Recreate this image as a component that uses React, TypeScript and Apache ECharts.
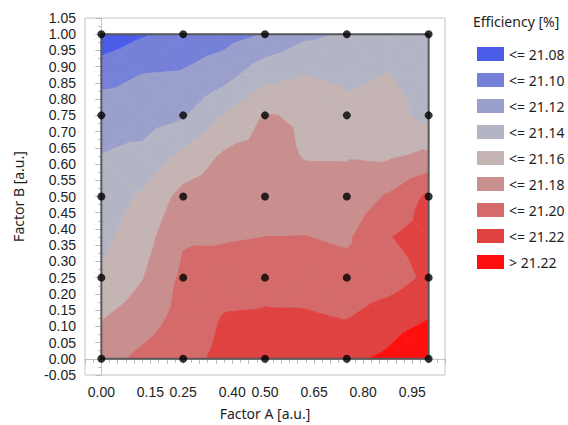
import React, { useEffect, useRef } from "react";
import * as echarts from "echarts";

// Grid of the contour (Factor A across, Factor B up)
const factorA = [0, 0.125, 0.25, 0.375, 0.5, 0.625, 0.75, 0.875, 1];
const factorB = [0, 0.125, 0.25, 0.375, 0.5, 0.625, 0.75, 0.875, 1];

// Efficiency [%] per row of Factor B (b = 0 ... 1), columns follow factorA
const effB000 = [21.172, 21.185, 21.1936, 21.205, 21.2066, 21.2117, 21.216, 21.2235, 21.24];
const effB125 = [21.159, 21.1704, 21.187, 21.2015, 21.2024, 21.2024, 21.1993, 21.2105, 21.2195];
const effB250 = [21.142, 21.159, 21.184, 21.19, 21.1939, 21.1916, 21.1876, 21.19, 21.204];
const effB375 = [21.135, 21.151, 21.178, 21.178, 21.18, 21.1803, 21.1768, 21.199, 21.207];
const effB500 = [21.128, 21.143, 21.1665, 21.1705, 21.1737, 21.169, 21.1679, 21.182, 21.204];
const effB625 = [21.1205, 21.125, 21.1445, 21.163, 21.1673, 21.1587, 21.1586, 21.157, 21.164];
const effB750 = [21.113, 21.111, 21.1177, 21.141, 21.161, 21.158, 21.1472, 21.1488, 21.133];
const effB875 = [21.092, 21.1004, 21.102, 21.112, 21.1333, 21.1398, 21.1351, 21.1405, 21.134];
const effB1000 = [21.066, 21.078, 21.088, 21.092, 21.101, 21.116, 21.122, 21.132, 21.134];
const effRows = [effB000, effB125, effB250, effB375, effB500, effB625, effB750, effB875, effB1000];

// Design points (black dots)
const designA = [0, 0.25, 0.5, 0.75, 1];
const designB = [0, 0.25, 0.5, 0.75, 1];

// Contour levels and legend
const levels = [21.08, 21.1, 21.12, 21.14, 21.16, 21.18, 21.2, 21.22];
const bandLabels = ["<= 21.08", "<= 21.10", "<= 21.12", "<= 21.14", "<= 21.16", "<= 21.18", "<= 21.20", "<= 21.22", "> 21.22"];
const bandColors = ["#4b5de8", "#7580d9", "#9a9fcc", "#b3b5c5", "#c4b4b4", "#c98e8e", "#d46a6a", "#e04242", "#ff0e0e"];

const xShownLabels = ["0.00", "0.15", "0.25", "0.40", "0.50", "0.65", "0.80", "0.95"];

const FONT = "'Noto Sans', 'Open Sans', sans-serif";
const TICK_FONT = "'Liberation Sans', Arial, sans-serif";

type P = [number, number, number];

function interp(p: P, q: P, level: number): P {
  const t = (level - p[2]) / (q[2] - p[2]);
  return [p[0] + t * (q[0] - p[0]), p[1] + t * (q[1] - p[1]), level];
}

function clip(poly: P[], level: number, keepAbove: boolean): P[] {
  const out: P[] = [];
  const inside = (p: P) => (keepAbove ? p[2] >= level : p[2] <= level);
  for (let k = 0; k < poly.length; k++) {
    const cur = poly[k];
    const prev = poly[(k + poly.length - 1) % poly.length];
    const ci = inside(cur);
    const pi = inside(prev);
    if (ci) {
      if (!pi) out.push(interp(prev, cur, level));
      out.push(cur);
    } else if (pi) {
      out.push(interp(prev, cur, level));
    }
  }
  return out;
}

function buildBands(): number[][][][] {
  const bands: number[][][][] = bandLabels.map(() => []);
  for (let j = 0; j < factorB.length - 1; j++) {
    for (let i = 0; i < factorA.length - 1; i++) {
      const p00: P = [factorA[i], factorB[j], effRows[j][i]];
      const p10: P = [factorA[i + 1], factorB[j], effRows[j][i + 1]];
      const p11: P = [factorA[i + 1], factorB[j + 1], effRows[j + 1][i + 1]];
      const p01: P = [factorA[i], factorB[j + 1], effRows[j + 1][i]];
      const c: P = [
        (p00[0] + p11[0]) / 2,
        (p00[1] + p11[1]) / 2,
        (p00[2] + p10[2] + p11[2] + p01[2]) / 4,
      ];
      const tris: P[][] = [
        [p00, p10, c],
        [p10, p11, c],
        [p11, p01, c],
        [p01, p00, c],
      ];
      for (const tri of tris) {
        for (let k = 0; k < bandLabels.length; k++) {
          let poly: P[] = tri;
          if (k > 0) poly = clip(poly, levels[k - 1], true);
          if (poly.length >= 3 && k < levels.length) poly = clip(poly, levels[k], false);
          if (poly.length >= 3) bands[k].push(poly.map((p) => [p[0], p[1]]));
        }
      }
    }
  }
  return bands;
}

export default function App() {
  const ref = useRef<HTMLDivElement>(null);
  useEffect(() => {
    if (!ref.current) return;
    const chart = echarts.init(ref.current, undefined, { renderer: "svg" });
    const bands = buildBands();

    const bandSeries = bands.map((polys, k) => ({
      type: "custom",
      name: bandLabels[k],
      coordinateSystem: "cartesian2d",
      itemStyle: { color: bandColors[k] },
      z: 1,
      silent: true,
      data: polys.map((_, idx) => [0.5, 0.5, idx]),
      renderItem: (params: any, api: any) => {
        const poly = polys[params.dataIndex];
        const pts = poly.map((p) => api.coord([p[0], p[1]]));
        return {
          type: "polygon",
          shape: { points: pts },
          style: { fill: bandColors[k], stroke: bandColors[k], lineWidth: 0.8 },
        };
      },
    }));

    const a0 = factorA[0];
    const a1 = factorA[factorA.length - 1];
    const b0 = factorB[0];
    const b1 = factorB[factorB.length - 1];

    const borderSeries = {
      type: "custom",
      coordinateSystem: "cartesian2d",
      z: 2,
      silent: true,
      data: [[a0, b0]],
      renderItem: (_params: any, api: any) => {
        const pts = [
          api.coord([a0, b0]),
          api.coord([a1, b0]),
          api.coord([a1, b1]),
          api.coord([a0, b1]),
        ];
        return {
          type: "polygon",
          shape: { points: pts },
          style: { fill: "none", stroke: "#5a5a5a", lineWidth: 2 },
        };
      },
    };

    const dots: number[][] = [];
    designB.forEach((b) => designA.forEach((a) => dots.push([a, b])));

    const scatterSeries = {
      type: "scatter",
      data: dots,
      symbol: "circle",
      symbolSize: 8,
      itemStyle: { color: "#000" },
      z: 3,
      silent: true,
    };

    const axisLabelStyle = { fontFamily: TICK_FONT, fontSize: 14, color: "#1e1e1e" };

    chart.setOption({
      animation: false,
      backgroundColor: "#fff",
      title: {
        text: "Efficiency [%]",
        left: 468,
        top: 9,
        textStyle: { fontFamily: FONT, fontSize: 14, fontWeight: "normal", color: "#1e1e1e" },
      },
      legend: {
        orient: "vertical",
        left: 472,
        top: 42,
        itemWidth: 27,
        itemHeight: 14,
        itemGap: 12,
        icon: "rect",
        selectedMode: false,
        data: bandLabels,
        textStyle: { fontFamily: FONT, fontSize: 14, color: "#1e1e1e" },
      },
      grid: {
        left: 85,
        right: 123,
        top: 18,
        bottom: 46,
        show: true,
        borderColor: "#c4c4c4",
        borderWidth: 1,
        backgroundColor: "transparent",
      },
      xAxis: {
        type: "value",
        min: -0.05,
        max: 1.05,
        interval: 0.05,
        name: "Factor A [a.u.]",
        nameLocation: "middle",
        nameGap: 31,
        nameTextStyle: { fontFamily: FONT, fontSize: 14, color: "#1e1e1e" },
        axisLine: { show: true, lineStyle: { color: "#c4c4c4" } },
        axisTick: { show: true, length: 5, lineStyle: { color: "#b8b8b8" } },
        minorTick: { show: true, splitNumber: 2, length: 4, lineStyle: { color: "#b8b8b8" } },
        splitLine: { show: false },
        axisLabel: {
          ...axisLabelStyle,
          margin: 10,
          showMinLabel: true,
          showMaxLabel: true,
          formatter: (v: number) => {
            const s = (Math.round(v * 100) / 100).toFixed(2);
            return xShownLabels.includes(s) ? s : "";
          },
        },
      },
      yAxis: {
        type: "value",
        min: -0.05,
        max: 1.05,
        interval: 0.05,
        name: "Factor B [a.u.]",
        nameLocation: "middle",
        nameGap: 60,
        nameTextStyle: { fontFamily: FONT, fontSize: 14, color: "#1e1e1e" },
        axisLine: { show: true, lineStyle: { color: "#c4c4c4" } },
        axisTick: { show: true, length: 6, lineStyle: { color: "#b8b8b8" } },
        minorTick: { show: true, splitNumber: 2, length: 3, lineStyle: { color: "#b8b8b8" } },
        splitLine: { show: false },
        axisLabel: {
          ...axisLabelStyle,
          lineHeight: 14,
          margin: 9,
          showMinLabel: true,
          showMaxLabel: true,
          formatter: (v: number) => (Math.round(v * 100) / 100).toFixed(2),
        },
      },
      series: [...bandSeries, borderSeries, scatterSeries],
    });
    return () => chart.dispose();
  }, []);
  return (
    <div
      ref={ref}
      style={{ position: "fixed", left: 0, top: 0, width: 568, height: 425, background: "#fff" }}
    />
  );
}
